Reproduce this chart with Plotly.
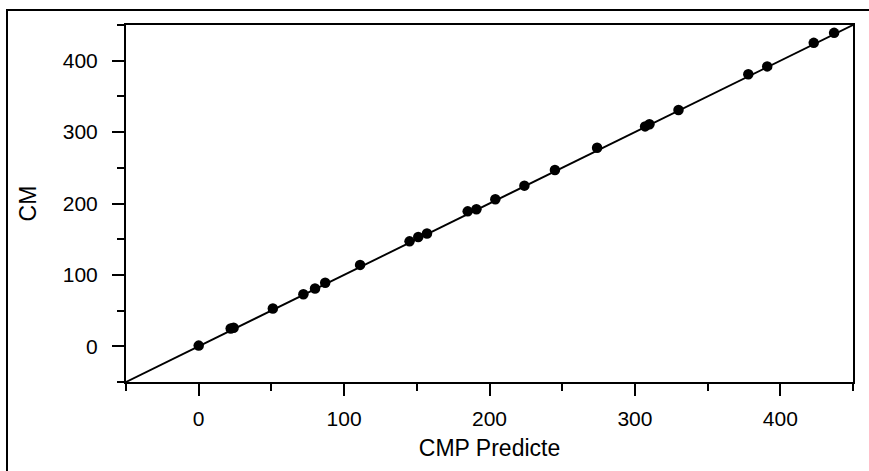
import plotly.graph_objects as go

# Data
cmp_predicted = [0, 22, 24, 51, 72, 80, 87, 111, 145, 151, 157, 185, 191, 204, 224, 245, 274, 307, 310, 330, 378, 391, 423, 437]
cm_values = [1, 25, 26, 53, 73, 81, 89, 114, 147, 153, 158, 189, 192, 206, 225, 247, 278, 308, 311, 331, 381, 392, 425, 439]

# Fit line (y = slope * x + intercept) over the axis range
fit_slope = 1.0
fit_intercept = 0.0
axis_range = [-50, 450]
fit_x = axis_range
fit_y = [fit_slope * v + fit_intercept for v in fit_x]

x_ticks = [0, 100, 200, 300, 400]
y_ticks = [0, 100, 200, 300, 400]

W, H = 869, 471
ML, MR, MT, MB = 126, 16, 25, 89
PW, PH = W - ML - MR, H - MT - MB

FONT = "Liberation Sans, Arial, sans-serif"

fig = go.Figure()
fig.add_trace(go.Scatter(x=fit_x, y=fit_y, mode="lines",
                         line=dict(color="black", width=1.9),
                         showlegend=False, hoverinfo="skip"))
fig.add_trace(go.Scatter(x=cmp_predicted, y=cm_values, mode="markers",
                         marker=dict(color="black", size=10.5),
                         showlegend=False, cliponaxis=False))

axis_common = dict(
    range=axis_range, showgrid=False, zeroline=False,
    showline=True, linecolor="black", linewidth=2, mirror=True,
    ticks="outside", ticklen=12, tickwidth=2, tickcolor="black",
    tickfont=dict(family=FONT, size=21, color="black"),
    minor=dict(ticks="outside", ticklen=7, tickwidth=2, tickcolor="black", dtick=50, tick0=-50, showgrid=False),
    fixedrange=True,
)

fig.update_layout(
    width=W, height=H,
    margin=dict(l=ML, r=MR, t=MT, b=MB, pad=0),
    paper_bgcolor="white", plot_bgcolor="white",
    xaxis=dict(**axis_common, tickvals=x_ticks, ticktext=[str(v) for v in x_ticks],
               ticklabelstandoff=5,
               title=dict(text="CMP Predicte", standoff=11,
                          font=dict(family=FONT, size=23, color="black"))),
    yaxis=dict(**axis_common, tickvals=y_ticks, ticktext=[str(v) for v in y_ticks],
               ticklabelstandoff=10,
               title=dict(text="CM", standoff=20,
                          font=dict(family=FONT, size=23, color="black"))),
)

# Outer frame (extends past the right and bottom edges in the reference)
def px_to_paper_x(px):
    return (px - ML) / PW

def py_to_paper_y(py):
    return (H - MB - py) / PH

fig.add_shape(type="rect", xref="paper", yref="paper",
              x0=px_to_paper_x(7), x1=px_to_paper_x(W + 20),
              y0=py_to_paper_y(H + 20), y1=py_to_paper_y(10),
              line=dict(color="black", width=2), fillcolor="rgba(0,0,0,0)", layer="below")

fig.write_html("out.html", config={"displayModeBar": False},
               post_script="document.body.style.margin='0';document.body.style.overflow='hidden';")
